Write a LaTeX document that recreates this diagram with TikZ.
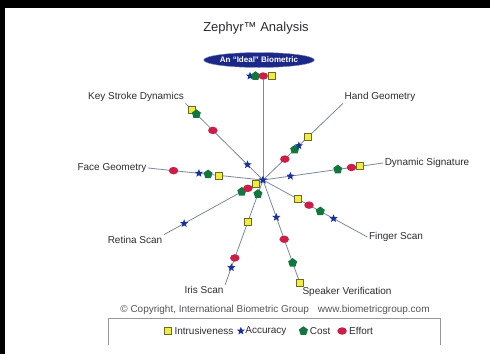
\documentclass[tikz,border=0pt]{standalone}
\usepackage{fontspec}
\setmainfont{Liberation Sans}
\usetikzlibrary{positioning,shapes.geometric}

\definecolor{spokegray}{RGB}{125,135,158}
\definecolor{labeltext}{RGB}{45,45,50}
\definecolor{copytext}{RGB}{85,85,90}
\definecolor{boxgray}{RGB}{150,150,155}
\definecolor{idealblue}{RGB}{28,40,135}
\definecolor{intyellow}{RGB}{240,236,70}
\definecolor{intborder}{RGB}{110,105,40}
\definecolor{accblue}{RGB}{25,50,150}
\definecolor{costgreen}{RGB}{20,118,62}
\definecolor{effred}{RGB}{200,32,72}

\begin{document}
\begin{tikzpicture}[x=1pt, y=-1pt, node distance=1pt,
    spoke/.style={draw=spokegray, line width=0.8pt},
    lbl/.style={font=\fontsize{10}{12}\selectfont, text=labeltext, inner sep=1.5pt},
    lgtxt/.style={font=\fontsize{10}{12}\selectfont, text=labeltext, inner sep=0.5pt},
    mkint/.style={rectangle, draw=intborder, fill=intyellow, line width=0.6pt, minimum size=7pt, inner sep=0pt},
    mkacc/.style={star, star points=5, star point ratio=2.3, fill=accblue, minimum size=8.5pt, inner sep=0pt},
    mkcost/.style={regular polygon, regular polygon sides=5, fill=costgreen, minimum size=9.5pt, inner sep=0pt},
    mkeff/.style={ellipse, fill=effred, minimum width=9.5pt, minimum height=7.5pt, inner sep=0pt}]

    % page and black frame
    \fill[white] (0,0) rectangle (490,354);
    \fill[black] (0,0) rectangle (490,8);
    \fill[black] (0,0) rectangle (5,354);
    \useasboundingbox (0,0) rectangle (490,354);

    \node[font=\fontsize{13}{15}\selectfont, text=labeltext] (title) at (256,28) {Zephyr™ Analysis};
    \node[ellipse, fill=idealblue, draw=idealblue!55, text=white, font=\bfseries\fontsize{8}{9}\selectfont,
          minimum width=102pt, minimum height=15pt, inner sep=0pt] (ideal) at (259,60) {An ``Ideal'' Biometric};

    % ideal markers
    \node[mkacc] (id-a) at (250,76) {};
    \node[mkcost, right=-1.5pt of id-a] (id-c) {};
    \node[mkeff, right=-1.5pt of id-c] (id-e) {};
    \node[mkint, right=0pt of id-e] (id-i) {};

    \node[mkacc] (hub) at (263,180) {};

    % labels
    \node[lbl] (ks) at (136,97) {Key Stroke Dynamics};
    \node[lbl] (hg) at (380,97) {Hand Geometry};
    \node[lbl] (ds) at (427,163) {Dynamic Signature};
    \node[lbl] (fg) at (112,168) {Face Geometry};
    \node[lbl] (fs) at (396,237) {Finger Scan};
    \node[lbl] (sv) at (347,292) {Speaker Verification};
    \node[lbl] (is) at (204,290) {Iris Scan};
    \node[lbl] (rs) at (135,240) {Retina Scan};

    % spokes
    \draw[spoke] (hub.center) -- (hub.center |- id-e.south);

    \draw[spoke] (hub.center) -- (ks.south east)
        node[mkacc, pos=.2] (ks-a) {}
        node[mkeff, pos=.647] (ks-e) {}
        node[mkint, pos=.913] (ks-i) {}
        node[mkcost, pos=.86] (ks-c) {};
    \draw[spoke] (hub.center) -- (hg.south west)
        node[mkeff, pos=.273] (hg-e) {}
        node[mkcost, pos=.396] (hg-c) {}
        node[mkacc, pos=.448] (hg-a) {}
        node[mkint, pos=.558] (hg-i) {};
    \draw[spoke] (hub.center) -- (ds.west)
        node[mkacc, pos=.228] (ds-a) {}
        node[mkcost, pos=.623] (ds-c) {}
        node[mkeff, pos=.737] (ds-e) {}
        node[mkint, pos=.807] (ds-i) {};
    \draw[spoke] (hub.center) -- (fg.east)
        node[mkint, pos=.389] (fg-i) {}
        node[mkcost, pos=.478] (fg-c) {}
        node[mkacc, pos=.558] (fg-a) {}
        node[mkeff, pos=.779] (fg-e) {};
    \draw[spoke] (hub.center) -- (fs.west)
        node[mkint, pos=.333] (fs-i) {}
        node[mkeff, pos=.441] (fs-e) {}
        node[mkcost, pos=.549] (fs-c) {}
        node[mkacc, pos=.676] (fs-a) {};
    \draw[spoke] (hub.center) -- (sv.north west)
        node[mkacc, pos=.353] (sv-a) {}
        node[mkeff, pos=.561] (sv-e) {}
        node[mkcost, pos=.784] (sv-c) {}
        node[mkint, pos=.97] (sv-i) {};
    \draw[spoke] (hub.center) -- (is.north east)
        node[mkcost, pos=.133] (is-c) {}
        node[mkint, pos=.398] (is-i) {}
        node[mkeff, pos=.745] (is-e) {}
        node[mkacc, pos=.837] (is-a) {};
    \draw[spoke] (hub.center) -- (rs.north east)
        node[mkacc, pos=.796] (rs-a) {}
        node[mkcost, pos=.214] (rs-c) {}
        node[mkeff, pos=.153] (rs-e) {}
        node[mkint, pos=.071] (rs-i) {};
    \node[mkacc] at (hub) {};

    % copyright and legend
    \node[lgtxt, text=copytext] (copy) at (275,310) {© Copyright, International Biometric Group\hspace{9pt}www.biometricgroup.com};
    \draw[boxgray, line width=0.8pt] (108,345) |- (440,318) -- (440,345);

    \node[mkint] (lg-i) at (168,331) {};
    \node[lgtxt, right=2pt of lg-i] (lt-i) {Intrusiveness};
    \node[mkacc, right=4pt of lt-i] (lg-a) {};
    \node[lgtxt, right=1pt of lg-a] (lt-a) {Accuracy};
    \node[mkcost, right=12pt of lt-a] (lg-c) {};
    \node[lgtxt, right=1.5pt of lg-c] (lt-c) {Cost};
    \node[mkeff, right=6pt of lt-c] (lg-e) {};
    \node[lgtxt, right=1.5pt of lg-e] (lt-e) {Effort};
\end{tikzpicture}
\end{document}
